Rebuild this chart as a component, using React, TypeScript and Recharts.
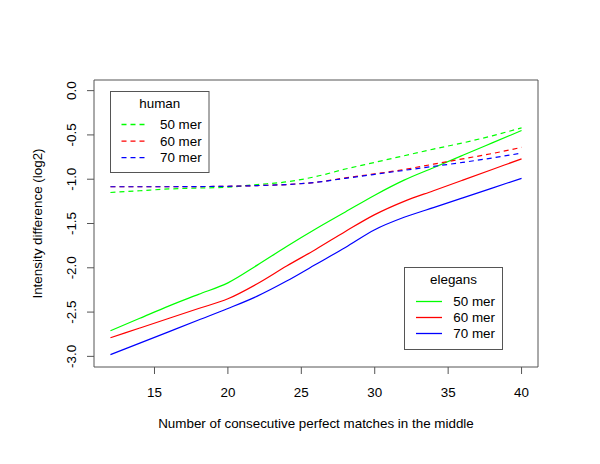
import React from 'react';
import { LineChart, Line, XAxis, YAxis, ReferenceArea, Label } from 'recharts';

// ---- data ----
const xValues = [12, 14, 16, 18, 20, 22, 24, 26, 28, 30, 32, 34, 36, 38, 40];
const elegans50 = [-2.71, -2.57, -2.43, -2.30, -2.17, -1.97, -1.76, -1.56, -1.37, -1.18, -1.01, -0.87, -0.73, -0.59, -0.45];
const elegans60 = [-2.79, -2.68, -2.57, -2.46, -2.35, -2.18, -1.98, -1.79, -1.59, -1.40, -1.25, -1.13, -1.01, -0.89, -0.77];
const elegans70 = [-2.98, -2.85, -2.72, -2.59, -2.46, -2.32, -2.15, -1.96, -1.77, -1.57, -1.43, -1.32, -1.21, -1.10, -0.99];
const human50 = [-1.15, -1.13, -1.11, -1.10, -1.09, -1.06, -1.03, -0.97, -0.885, -0.81, -0.735, -0.66, -0.59, -0.51, -0.42];
const human60 = [-1.085, -1.085, -1.085, -1.083, -1.08, -1.072, -1.06, -1.035, -0.985, -0.94, -0.89, -0.83, -0.77, -0.71, -0.64];
const human70 = [-1.085, -1.085, -1.085, -1.083, -1.08, -1.072, -1.06, -1.035, -0.99, -0.945, -0.90, -0.855, -0.81, -0.76, -0.705];

const xTicks = [15, 20, 25, 30, 35, 40];
const yTicks = [0, -0.5, -1, -1.5, -2, -2.5, -3];
const yTickLabels = ['0.0', '-0.5', '-1.0', '-1.5', '-2.0', '-2.5', '-3.0'];
const xDomain = [10.88, 41.12];
const yDomain = [-3.12, 0.12];

const merLabels = ['50 mer', '60 mer', '70 mer'];
const colors = ['#00FF00', '#FF0000', '#0000FF'];

const xTitle = 'Number of consecutive perfect matches in the middle';
const yTitle = 'Intensity difference (log2)';

const data = xValues.map((x, i) => ({
  x,
  e50: elegans50[i],
  e60: elegans60[i],
  e70: elegans70[i],
  h50: human50[i],
  h60: human60[i],
  h70: human70[i],
}));

const FONT = '"Liberation Sans", Arial, Helvetica, sans-serif';
const FS = 13.4;
const AXIS_COLOR = '#555555';

const XTick = (props: any) => {
  const { x, y, payload } = props;
  return (
    <text x={x} y={y + 22.5} textAnchor="middle" fontFamily={FONT} fontSize={FS} fill="#000">
      {String(payload.value)}
    </text>
  );
};

const YTick = (props: any) => {
  const { x, y, payload } = props;
  const idx = yTicks.indexOf(payload.value);
  const label = idx >= 0 ? yTickLabels[idx] : String(payload.value);
  const bx = x - 11;
  return (
    <text
      x={bx}
      y={y}
      transform={`rotate(-90, ${bx}, ${y})`}
      textAnchor="middle"
      fontFamily={FONT}
      fontSize={FS}
      fill="#000"
    >
      {label}
    </text>
  );
};

type LegendSpec = {
  title: string;
  dashed: boolean;
  left: number;
  top: number;
  width: number;
  height: number;
  titleBaseline: number;
  firstBaseline: number;
  step: number;
  lineX1: number;
  lineX2: number;
  textX: number;
};

const legends: LegendSpec[] = [
  {
    title: 'human', dashed: true, left: 110.5, top: 91.5, width: 98.5, height: 81,
    titleBaseline: 108.3, firstBaseline: 129, step: 16.6, lineX1: 121.5, lineX2: 145.5, textX: 160,
  },
  {
    title: 'elegans', dashed: false, left: 404.5, top: 267.5, width: 98, height: 82,
    titleBaseline: 283.5, firstBaseline: 306, step: 16, lineX1: 416, lineX2: 442, textX: 453.3,
  },
];

const LegendBoxes = () => (
  <svg width={600} height={464} style={{ position: 'absolute', left: 0, top: 0, pointerEvents: 'none' }}>
    {legends.map((lg) => (
      <g key={lg.title}>
        <rect x={lg.left} y={lg.top} width={lg.width} height={lg.height} fill="#fff" stroke={AXIS_COLOR} strokeWidth={1} />
        <text x={lg.left + lg.width / 2} y={lg.titleBaseline} textAnchor="middle" fontFamily={FONT} fontSize={FS} fill="#000">
          {lg.title}
        </text>
        {merLabels.map((lab, i) => {
          const base = lg.firstBaseline + i * lg.step;
          return (
            <g key={lab}>
              <line
                x1={lg.lineX1}
                x2={lg.lineX2}
                y1={base - 4.5}
                y2={base - 4.5}
                stroke={colors[i]}
                strokeWidth={1.3}
                strokeDasharray={lg.dashed ? '5 4' : 'none'}
              />
              <text x={lg.textX} y={base} fontFamily={FONT} fontSize={FS} fill="#000">
                {lab}
              </text>
            </g>
          );
        })}
      </g>
    ))}
  </svg>
);

const seriesKeys = [
  { key: 'e50', color: colors[0], dashed: false },
  { key: 'e60', color: colors[1], dashed: false },
  { key: 'e70', color: colors[2], dashed: false },
  { key: 'h50', color: colors[0], dashed: true },
  { key: 'h60', color: colors[1], dashed: true },
  { key: 'h70', color: colors[2], dashed: true },
];

export default function App() {
  return (
    <div style={{ position: 'absolute', left: 0, top: 0, width: 600, height: 464, background: '#fff' }}>
      <LineChart width={600} height={464} data={data} margin={{ top: 80, right: 62, bottom: 37, left: 34 }}>
        <XAxis
          dataKey="x"
          type="number"
          domain={xDomain}
          ticks={xTicks}
          allowDataOverflow
          height={60}
          axisLine={false}
          tickLine={{ stroke: AXIS_COLOR }}
          tickSize={7}
          tickMargin={0}
          tick={<XTick />}
          interval={0}
        >
          <Label
            content={(p: any) => {
              const vb = p.viewBox || {};
              return (
                <text x={vb.x + vb.width / 2} y={vb.y + 61} textAnchor="middle" fontFamily={FONT} fontSize={FS} fill="#000">
                  {xTitle}
                </text>
              );
            }}
          />
        </XAxis>
        <YAxis
          type="number"
          domain={yDomain}
          ticks={yTicks}
          allowDataOverflow
          width={60}
          axisLine={false}
          tickLine={{ stroke: AXIS_COLOR }}
          tickSize={7}
          tickMargin={0}
          tick={<YTick />}
          interval={0}
        >
          <Label
            content={(p: any) => {
              const vb = p.viewBox || {};
              const cx = vb.x + vb.width - 52;
              const cy = vb.y + vb.height / 2;
              return (
                <text x={cx} y={cy} transform={`rotate(-90, ${cx}, ${cy})`} textAnchor="middle" fontFamily={FONT} fontSize={FS} fill="#000">
                  {yTitle}
                </text>
              );
            }}
          />
        </YAxis>
        <ReferenceArea
          x1={xDomain[0]}
          x2={xDomain[1]}
          y1={yDomain[0]}
          y2={yDomain[1]}
          fill="none"
          fillOpacity={0}
          stroke={AXIS_COLOR}
          strokeWidth={1}
          ifOverflow="visible"
        />
        {seriesKeys.map((s) => (
          <Line
            key={s.key}
            dataKey={s.key}
            type="monotone"
            stroke={s.color}
            strokeWidth={1.2}
            strokeDasharray={s.dashed ? '5 4' : undefined}
            dot={false}
            activeDot={false}
            isAnimationActive={false}
          />
        ))}
      </LineChart>
      <LegendBoxes />
    </div>
  );
}
